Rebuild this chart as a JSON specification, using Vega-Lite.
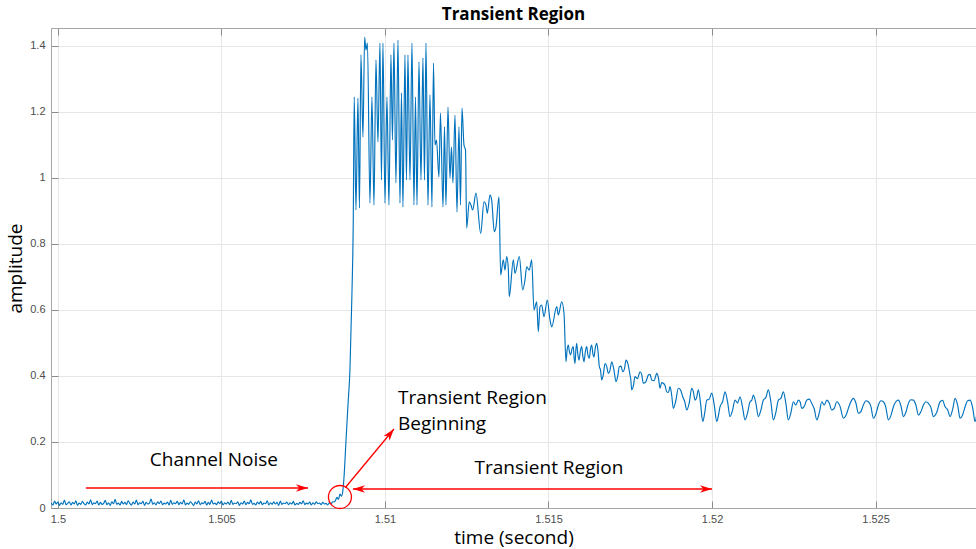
{
"$schema": "https://vega.github.io/schema/vega-lite/v6.json",
"width": 925, "height": 480,
"autosize": {"type": "none"},
"padding": {"left": 51, "top": 28, "right": 0, "bottom": 41},
"background": "white",
"title": {"text": "Transient Region", "font": "Open Sans", "fontSize": 17, "fontWeight": "bold", "color": "#000000", "offset": 4, "anchor": "middle"},
"config": {
  "view": {"stroke": "#a6a6a6", "strokeWidth": 1},
  "axis": {"domainColor": "#a6a6a6", "tickColor": "#8c8c8c", "gridColor": "#e6e6e6", "gridWidth": 1, "labelColor": "#4d4d4d", "labelFont": "Liberation Sans", "labelFontSize": 11, "titleFont": "Open Sans", "titleFontWeight": "normal", "titleFontSize": 19, "titleColor": "#000000", "tickSize": -7, "labelFlush": false}
},
"datasets": {
"signal": [
{"t":1.49980,"a":0.015},{"t":1.49985,"a":0.009},{"t":1.49990,"a":0.021},{"t":1.49995,"a":0.012},{"t":1.50000,"a":0.018},{"t":1.50005,"a":0.008},{"t":1.50010,"a":0.016},{"t":1.50015,"a":0.011},{"t":1.50020,"a":0.024},{"t":1.50025,"a":0.010},{"t":1.50030,"a":0.014},{"t":1.50035,"a":0.019},{"t":1.50040,"a":0.009},{"t":1.50045,"a":0.017},{"t":1.50050,"a":0.012},{"t":1.50055,"a":0.022},{"t":1.50060,"a":0.008},{"t":1.50065,"a":0.015},{"t":1.50070,"a":0.011},{"t":1.50075,"a":0.020},{"t":1.50080,"a":0.013},{"t":1.50085,"a":0.009},{"t":1.50090,"a":0.018},{"t":1.50095,"a":0.012},{"t":1.50100,"a":0.025},{"t":1.50105,"a":0.010},{"t":1.50110,"a":0.016},{"t":1.50115,"a":0.013},{"t":1.50120,"a":0.021},{"t":1.50125,"a":0.009},{"t":1.50130,"a":0.017},{"t":1.50135,"a":0.011},{"t":1.50140,"a":0.014},{"t":1.50145,"a":0.023},{"t":1.50150,"a":0.010},{"t":1.50155,"a":0.016},{"t":1.50160,"a":0.008},{"t":1.50165,"a":0.019},{"t":1.50170,"a":0.013},{"t":1.50175,"a":0.026},{"t":1.50180,"a":0.011},{"t":1.50185,"a":0.015},{"t":1.50190,"a":0.009},{"t":1.50195,"a":0.020},{"t":1.50200,"a":0.012},{"t":1.50205,"a":0.017},{"t":1.50210,"a":0.010},{"t":1.50215,"a":0.022},{"t":1.50220,"a":0.014},{"t":1.50225,"a":0.009},{"t":1.50230,"a":0.018},{"t":1.50235,"a":0.012},{"t":1.50240,"a":0.024},{"t":1.50245,"a":0.010},{"t":1.50250,"a":0.016},{"t":1.50255,"a":0.013},{"t":1.50260,"a":0.020},{"t":1.50265,"a":0.008},{"t":1.50270,"a":0.017},{"t":1.50275,"a":0.012},{"t":1.50280,"a":0.015},{"t":1.50285,"a":0.027},{"t":1.50290,"a":0.011},{"t":1.50295,"a":0.016},{"t":1.50300,"a":0.009},{"t":1.50305,"a":0.019},{"t":1.50310,"a":0.013},{"t":1.50315,"a":0.021},{"t":1.50320,"a":0.010},{"t":1.50325,"a":0.015},{"t":1.50330,"a":0.012},{"t":1.50335,"a":0.018},{"t":1.50340,"a":0.009},{"t":1.50345,"a":0.023},{"t":1.50350,"a":0.011},{"t":1.50355,"a":0.016},{"t":1.50360,"a":0.013},{"t":1.50365,"a":0.020},{"t":1.50370,"a":0.010},{"t":1.50375,"a":0.017},{"t":1.50380,"a":0.012},{"t":1.50385,"a":0.025},{"t":1.50390,"a":0.009},{"t":1.50395,"a":0.015},{"t":1.50400,"a":0.011},{"t":1.50405,"a":0.019},{"t":1.50410,"a":0.014},{"t":1.50415,"a":0.008},{"t":1.50420,"a":0.018},{"t":1.50425,"a":0.012},{"t":1.50430,"a":0.022},{"t":1.50435,"a":0.010},{"t":1.50440,"a":0.016},{"t":1.50445,"a":0.013},{"t":1.50450,"a":0.020},{"t":1.50455,"a":0.009},{"t":1.50460,"a":0.017},{"t":1.50465,"a":0.011},{"t":1.50470,"a":0.024},{"t":1.50475,"a":0.012},{"t":1.50480,"a":0.015},{"t":1.50485,"a":0.010},{"t":1.50490,"a":0.019},{"t":1.50495,"a":0.013},{"t":1.50500,"a":0.021},{"t":1.50505,"a":0.009},{"t":1.50510,"a":0.016},{"t":1.50515,"a":0.012},{"t":1.50520,"a":0.018},{"t":1.50525,"a":0.010},{"t":1.50530,"a":0.023},{"t":1.50535,"a":0.011},{"t":1.50540,"a":0.015},{"t":1.50545,"a":0.013},{"t":1.50550,"a":0.019},{"t":1.50555,"a":0.008},{"t":1.50560,"a":0.016},{"t":1.50565,"a":0.012},{"t":1.50570,"a":0.021},{"t":1.50575,"a":0.010},{"t":1.50580,"a":0.017},{"t":1.50585,"a":0.013},{"t":1.50590,"a":0.025},{"t":1.50595,"a":0.011},{"t":1.50600,"a":0.014},{"t":1.50605,"a":0.009},{"t":1.50610,"a":0.018},{"t":1.50615,"a":0.012},{"t":1.50620,"a":0.020},{"t":1.50625,"a":0.010},{"t":1.50630,"a":0.015},{"t":1.50635,"a":0.013},{"t":1.50640,"a":0.022},{"t":1.50645,"a":0.009},{"t":1.50650,"a":0.016},{"t":1.50655,"a":0.011},{"t":1.50660,"a":0.019},{"t":1.50665,"a":0.012},{"t":1.50670,"a":0.017},{"t":1.50675,"a":0.008},{"t":1.50680,"a":0.021},{"t":1.50685,"a":0.011},{"t":1.50690,"a":0.015},{"t":1.50695,"a":0.013},{"t":1.50700,"a":0.018},{"t":1.50705,"a":0.010},{"t":1.50710,"a":0.016},{"t":1.50715,"a":0.012},{"t":1.50720,"a":0.020},{"t":1.50725,"a":0.009},{"t":1.50730,"a":0.014},{"t":1.50735,"a":0.011},{"t":1.50740,"a":0.017},{"t":1.50745,"a":0.013},{"t":1.50750,"a":0.022},{"t":1.50755,"a":0.010},{"t":1.50760,"a":0.015},{"t":1.50765,"a":0.012},{"t":1.50770,"a":0.018},{"t":1.50775,"a":0.009},{"t":1.50780,"a":0.016},{"t":1.50785,"a":0.011},{"t":1.50790,"a":0.019},{"t":1.50795,"a":0.013},{"t":1.50800,"a":0.015},{"t":1.50805,"a":0.010},{"t":1.50810,"a":0.017},{"t":1.50815,"a":0.012},{"t":1.50820,"a":0.014},{"t":1.50825,"a":0.009},{"t":1.50830,"a":0.016},{"t":1.50835,"a":0.013},{"t":1.50840,"a":0.018},
{"t":1.508471,"a":0.020},{"t":1.508532,"a":0.032},{"t":1.508578,"a":0.026},{"t":1.508624,"a":0.042},{"t":1.508670,"a":0.036},{"t":1.508716,"a":0.055},{"t":1.508746,"a":0.09},{"t":1.508807,"a":0.20},{"t":1.508868,"a":0.31},{"t":1.508930,"a":0.42},{"t":1.508991,"a":0.65},{"t":1.509031,"a":0.87},
{"t":1.509061,"a":1.246},{"t":1.509113,"a":0.903},{"t":1.509174,"a":1.242},{"t":1.509220,"a":0.909},{"t":1.509266,"a":1.373},{"t":1.509327,"a":1.124},{"t":1.509379,"a":1.427},{"t":1.509419,"a":1.388},{"t":1.509465,"a":1.409},{"t":1.509541,"a":0.924},{"t":1.509602,"a":1.245},{"t":1.509664,"a":0.918},{"t":1.509725,"a":1.358},{"t":1.509786,"a":1.109},{"t":1.509847,"a":1.409},{"t":1.509893,"a":0.994},{"t":1.509939,"a":1.409},{"t":1.510000,"a":0.924},{"t":1.510061,"a":1.245},{"t":1.510122,"a":0.918},{"t":1.510183,"a":1.373},{"t":1.510229,"a":1.115},{"t":1.510275,"a":1.409},{"t":1.510336,"a":0.985},{"t":1.510398,"a":1.418},{"t":1.510459,"a":0.924},{"t":1.510505,"a":1.258},{"t":1.510550,"a":0.912},{"t":1.510612,"a":1.373},{"t":1.510657,"a":0.994},{"t":1.510703,"a":1.373},{"t":1.510765,"a":0.994},{"t":1.510826,"a":1.409},{"t":1.510887,"a":0.918},{"t":1.510933,"a":1.245},{"t":1.510979,"a":0.918},{"t":1.511040,"a":1.352},{"t":1.511101,"a":0.994},{"t":1.511162,"a":1.364},{"t":1.511208,"a":0.994},{"t":1.511254,"a":1.409},{"t":1.511315,"a":0.918},{"t":1.511376,"a":1.252},{"t":1.511437,"a":0.912},{"t":1.511483,"a":1.348},{"t":1.511529,"a":1.100},{"t":1.511575,"a":1.115},{"t":1.511651,"a":1.003},{"t":1.511697,"a":1.197},{"t":1.511774,"a":0.912},{"t":1.511820,"a":1.155},{"t":1.511865,"a":0.918},{"t":1.511927,"a":1.215},{"t":1.511988,"a":1.000},{"t":1.512034,"a":1.094},{"t":1.512079,"a":0.985},{"t":1.512141,"a":1.191},{"t":1.512202,"a":0.897},{"t":1.512263,"a":1.155},{"t":1.512309,"a":0.918},{"t":1.512355,"a":1.212},{"t":1.512416,"a":1.100},{"t":1.512462,"a":1.085},
{"t":1.512498,"a":0.848},{"t":1.512578,"a":0.928},{"t":1.512630,"a":0.918},{"t":1.512682,"a":0.903},{"t":1.512783,"a":0.954},{"t":1.512927,"a":0.832},{"t":1.513028,"a":0.928},{"t":1.513089,"a":0.918},{"t":1.513128,"a":0.893},{"t":1.513211,"a":0.948},{"t":1.513263,"a":0.933},{"t":1.513342,"a":0.837},{"t":1.513394,"a":0.852},{"t":1.513486,"a":0.943},
{"t":1.513538,"a":0.706},{"t":1.513618,"a":0.752},{"t":1.513670,"a":0.721},{"t":1.513722,"a":0.762},{"t":1.513771,"a":0.726},{"t":1.513801,"a":0.640},{"t":1.513924,"a":0.752},{"t":1.513976,"a":0.711},{"t":1.514107,"a":0.762},{"t":1.514211,"a":0.661},{"t":1.514281,"a":0.691},{"t":1.514333,"a":0.731},{"t":1.514413,"a":0.721},{"t":1.514486,"a":0.752},
{"t":1.514557,"a":0.600},{"t":1.514639,"a":0.625},{"t":1.514688,"a":0.534},{"t":1.514740,"a":0.610},{"t":1.514792,"a":0.615},{"t":1.514862,"a":0.580},{"t":1.514963,"a":0.630},{"t":1.515046,"a":0.570},{"t":1.515098,"a":0.549},{"t":1.515251,"a":0.610},{"t":1.515300,"a":0.585},{"t":1.515404,"a":0.625},{"t":1.515474,"a":0.590},
{"t":1.515535,"a":0.443},{"t":1.515606,"a":0.494},{"t":1.515679,"a":0.464},{"t":1.515758,"a":0.489},{"t":1.515810,"a":0.438},{"t":1.515862,"a":0.499},{"t":1.515933,"a":0.448},{"t":1.516015,"a":0.489},{"t":1.516086,"a":0.443},{"t":1.516168,"a":0.489},{"t":1.516248,"a":0.454},{"t":1.516321,"a":0.494},{"t":1.516391,"a":0.458},{"t":1.516474,"a":0.499},
{"t":1.516554,"a":0.428},{"t":1.516627,"a":0.388},{"t":1.516728,"a":0.438},{"t":1.516829,"a":0.408},{"t":1.516933,"a":0.443},{"t":1.517064,"a":0.383},{"t":1.517165,"a":0.428},{"t":1.517269,"a":0.413},{"t":1.517370,"a":0.448},{"t":1.517492,"a":0.403},{"t":1.517544,"a":0.358},{"t":1.517645,"a":0.398},{"t":1.517798,"a":0.413},{"t":1.517899,"a":0.378},{"t":1.518052,"a":0.403},{"t":1.518156,"a":0.388},{"t":1.518309,"a":0.408},{"t":1.518410,"a":0.363},{"t":1.518511,"a":0.378},{"t":1.518615,"a":0.352},{"t":1.518716,"a":0.368},{"t":1.518816,"a":0.302},{"t":1.518969,"a":0.363},{"t":1.519104,"a":0.337},{"t":1.519226,"a":0.297},{"t":1.519379,"a":0.363},{"t":1.519480,"a":0.327},{"t":1.519581,"a":0.358},{"t":1.519715,"a":0.262},{"t":1.519838,"a":0.327},{"t":1.519991,"a":0.348},{"t":1.520144,"a":0.262},{"t":1.520245,"a":0.307},{"t":1.520398,"a":0.352},{"t":1.520550,"a":0.277},{"t":1.520703,"a":0.327},{"t":1.520856,"a":0.337},
{"t":1.521009,"a":0.267},{"t":1.521162,"a":0.322},{"t":1.521263,"a":0.342},{"t":1.521416,"a":0.277},{"t":1.521569,"a":0.327},{"t":1.521722,"a":0.358},{"t":1.521875,"a":0.267},{"t":1.522028,"a":0.327},{"t":1.522180,"a":0.352},{"t":1.522333,"a":0.267},{"t":1.522486,"a":0.322},{"t":1.522639,"a":0.327},{"t":1.522743,"a":0.302},{"t":1.522896,"a":0.327},{"t":1.523049,"a":0.317},{"t":1.523202,"a":0.267},{"t":1.523355,"a":0.322},{"t":1.523508,"a":0.327},{"t":1.523660,"a":0.297},{"t":1.523813,"a":0.322},{"t":1.524015,"a":0.272},{"t":1.524168,"a":0.302},{"t":1.524321,"a":0.332},{"t":1.524474,"a":0.287},{"t":1.524627,"a":0.312},{"t":1.524780,"a":0.322},{"t":1.524933,"a":0.272},{"t":1.525086,"a":0.312},{"t":1.525238,"a":0.322},{"t":1.525391,"a":0.267},{"t":1.525544,"a":0.307},{"t":1.525697,"a":0.327},{"t":1.525850,"a":0.277},{"t":1.526003,"a":0.317},{"t":1.526156,"a":0.327},{"t":1.526309,"a":0.282},{"t":1.526462,"a":0.312},{"t":1.526615,"a":0.317},{"t":1.526767,"a":0.277},{"t":1.526972,"a":0.322},{"t":1.527125,"a":0.307},{"t":1.527278,"a":0.277},{"t":1.527431,"a":0.332},{"t":1.527584,"a":0.272},{"t":1.527737,"a":0.307},{"t":1.527890,"a":0.327},{"t":1.528042,"a":0.262},{"t":1.528100,"a":0.290},
{"t":1.515570,"a":0.480},{"t":1.515642,"a":0.472},{"t":1.515718,"a":0.482},{"t":1.515784,"a":0.455},{"t":1.515836,"a":0.478},{"t":1.515897,"a":0.465},{"t":1.515974,"a":0.476},{"t":1.516050,"a":0.460},{"t":1.516127,"a":0.474},{"t":1.516208,"a":0.462},{"t":1.516284,"a":0.482},{"t":1.516356,"a":0.468},{"t":1.516432,"a":0.486},{"t":1.516514,"a":0.475},{"t":1.516590,"a":0.418},{"t":1.516677,"a":0.405},{"t":1.516778,"a":0.430},{"t":1.516881,"a":0.418},{"t":1.516998,"a":0.420},{"t":1.517114,"a":0.398},{"t":1.517217,"a":0.430},{"t":1.517319,"a":0.420},{"t":1.517431,"a":0.436},{"t":1.517518,"a":0.388},{"t":1.517594,"a":0.370},{"t":1.517721,"a":0.392},{"t":1.517848,"a":0.405},{"t":1.517975,"a":0.382},{"t":1.518104,"a":0.405},{"t":1.518232,"a":0.386},{"t":1.518360,"a":0.395},{"t":1.518460,"a":0.380},{"t":1.518563,"a":0.371},{"t":1.518665,"a":0.350},{"t":1.518766,"a":0.342},{"t":1.518892,"a":0.325},{"t":1.519036,"a":0.358},{"t":1.519165,"a":0.322},{"t":1.519302,"a":0.318},{"t":1.519430,"a":0.352},{"t":1.519530,"a":0.335},{"t":1.519648,"a":0.318},{"t":1.519776,"a":0.288},{"t":1.519914,"a":0.330},{"t":1.520068,"a":0.312},{"t":1.520194,"a":0.280},{"t":1.520322,"a":0.322},{"t":1.520474,"a":0.322},{"t":1.520626,"a":0.296},{"t":1.520780,"a":0.318},{"t":1.520932,"a":0.306},{"t":1.521086,"a":0.288},{"t":1.521212,"a":0.326},{"t":1.521340,"a":0.318},{"t":1.521492,"a":0.296},{"t":1.521646,"a":0.335},{"t":1.521798,"a":0.322},{"t":1.521952,"a":0.290},{"t":1.522104,"a":0.332},{"t":1.522256,"a":0.318},{"t":1.522410,"a":0.288},{"t":1.522562,"a":0.312},{"t":1.522691,"a":0.322},{"t":1.522820,"a":0.308},{"t":1.522972,"a":0.330},{"t":1.523126,"a":0.300},{"t":1.523278,"a":0.288},{"t":1.523432,"a":0.312},{"t":1.523584,"a":0.318},{"t":1.523736,"a":0.302},{"t":1.523914,"a":0.308},{"t":1.524092,"a":0.280},{"t":1.524244,"a":0.322},{"t":1.524398,"a":0.318},{"t":1.524550,"a":0.292},{"t":1.524704,"a":0.325},{"t":1.524856,"a":0.308},{"t":1.525010,"a":0.285},{"t":1.525162,"a":0.325},{"t":1.525314,"a":0.305},{"t":1.525468,"a":0.280},{"t":1.525620,"a":0.322},{"t":1.525774,"a":0.310},{"t":1.525926,"a":0.290},{"t":1.526080,"a":0.328},{"t":1.526232,"a":0.312},{"t":1.526386,"a":0.292},{"t":1.526538,"a":0.322},{"t":1.526691,"a":0.305},{"t":1.526870,"a":0.290},{"t":1.527048,"a":0.326},{"t":1.527202,"a":0.298},{"t":1.527354,"a":0.298},{"t":1.527508,"a":0.312},{"t":1.527660,"a":0.282},{"t":1.527814,"a":0.325},{"t":1.527966,"a":0.305}
],
"arrows": [
{"t":1.500856,"a":0.0606,"t2":1.507645,"a2":0.0606},
{"t":1.508792,"a":0.0621,"t2":1.510275,"a2":0.2394},
{"t":1.509021,"a":0.0576,"t2":1.520000,"a2":0.0576}
],
"heads": [
{"t":1.507645,"a":0.0606,"ang":0},
{"t":1.510275,"a":0.2394,"ang":308.5},
{"t":1.509021,"a":0.0576,"ang":180},
{"t":1.520000,"a":0.0576,"ang":0}
],
"circle": [{"t":1.508624,"a":0.0333}],
"centered": [
{"t":1.504771,"a":0.1455,"label":"Channel Noise"},
{"t":1.515015,"a":0.1212,"label":"Transient Region"}
],
"lefttext": [
{"t":1.510398,"a":0.3333,"label":"Transient Region"},
{"t":1.510398,"a":0.2545,"label":"Beginning"}
],
"ticks": [{"t":1.5,"a":0},{"t":1.525,"a":0}]
},
"encoding": {
  "y": {"field": "a", "type": "quantitative", "scale": {"domain": [0, 1.4545], "nice": false, "zero": false},
        "axis": {"values": [0, 0.2, 0.4, 0.6, 0.8, 1, 1.2, 1.4], "format": "~g", "title": "amplitude", "grid": true, "labelPadding": 13, "titlePadding": 4}}
},
"resolve": {"axis": {"x": "independent"}},
"layer": [
{
 "data": {"name": "signal"},
 "mark": {"type": "line", "color": "#0072BD", "strokeWidth": 1.15, "interpolate": "monotone", "clip": true},
 "encoding": {
  "x": {"field": "t", "type": "quantitative", "scale": {"domain": [1.49979, 1.52807], "nice": false, "zero": false},
        "axis": {"orient": "bottom", "values": [1.5, 1.505, 1.51, 1.515, 1.52, 1.525], "format": ".4~g", "title": "time (second)", "grid": true, "labelPadding": 12, "titlePadding": 4}}
 }
},
{
 "data": {"name": "ticks"},
 "mark": {"type": "point", "opacity": 0},
 "encoding": {
  "x": {"field": "t", "type": "quantitative", "scale": {"domain": [1.49979, 1.52807], "nice": false, "zero": false},
        "axis": {"orient": "top", "values": [1.5, 1.505, 1.51, 1.515, 1.52, 1.525], "labels": false, "grid": false, "domain": false, "title": null}}
 }
},
{
 "data": {"name": "arrows"},
 "mark": {"type": "rule", "color": "#ff0000", "strokeWidth": 1.3},
 "encoding": {
  "x": {"field": "t", "type": "quantitative", "scale": {"domain": [1.49979, 1.52807], "nice": false, "zero": false}, "axis": null},
  "x2": {"field": "t2"},
  "y2": {"field": "a2"}
 }
},
{
 "data": {"name": "heads"},
 "mark": {"type": "point", "shape": "M0,0L-1,-0.32L-0.72,0L-1,0.32Z", "filled": true, "color": "#ff0000", "opacity": 1, "size": 576, "strokeWidth": 0},
 "encoding": {
  "x": {"field": "t", "type": "quantitative", "scale": {"domain": [1.49979, 1.52807], "nice": false, "zero": false}, "axis": null},
  "angle": {"field": "ang", "type": "quantitative", "scale": null}
 }
},
{
 "data": {"name": "circle"},
 "mark": {"type": "point", "shape": "circle", "filled": false, "color": "#ff0000", "opacity": 1, "size": 529, "strokeWidth": 1.3},
 "encoding": {
  "x": {"field": "t", "type": "quantitative", "scale": {"domain": [1.49979, 1.52807], "nice": false, "zero": false}, "axis": null}
 }
},
{
 "data": {"name": "centered"},
 "mark": {"type": "text", "font": "Open Sans", "fontSize": 19, "color": "#000000", "align": "center", "baseline": "middle"},
 "encoding": {
  "x": {"field": "t", "type": "quantitative", "scale": {"domain": [1.49979, 1.52807], "nice": false, "zero": false}, "axis": null},
  "text": {"field": "label"}
 }
},
{
 "data": {"name": "lefttext"},
 "mark": {"type": "text", "font": "Open Sans", "fontSize": 19, "color": "#000000", "align": "left", "baseline": "middle"},
 "encoding": {
  "x": {"field": "t", "type": "quantitative", "scale": {"domain": [1.49979, 1.52807], "nice": false, "zero": false}, "axis": null},
  "text": {"field": "label"}
 }
}
]
}
